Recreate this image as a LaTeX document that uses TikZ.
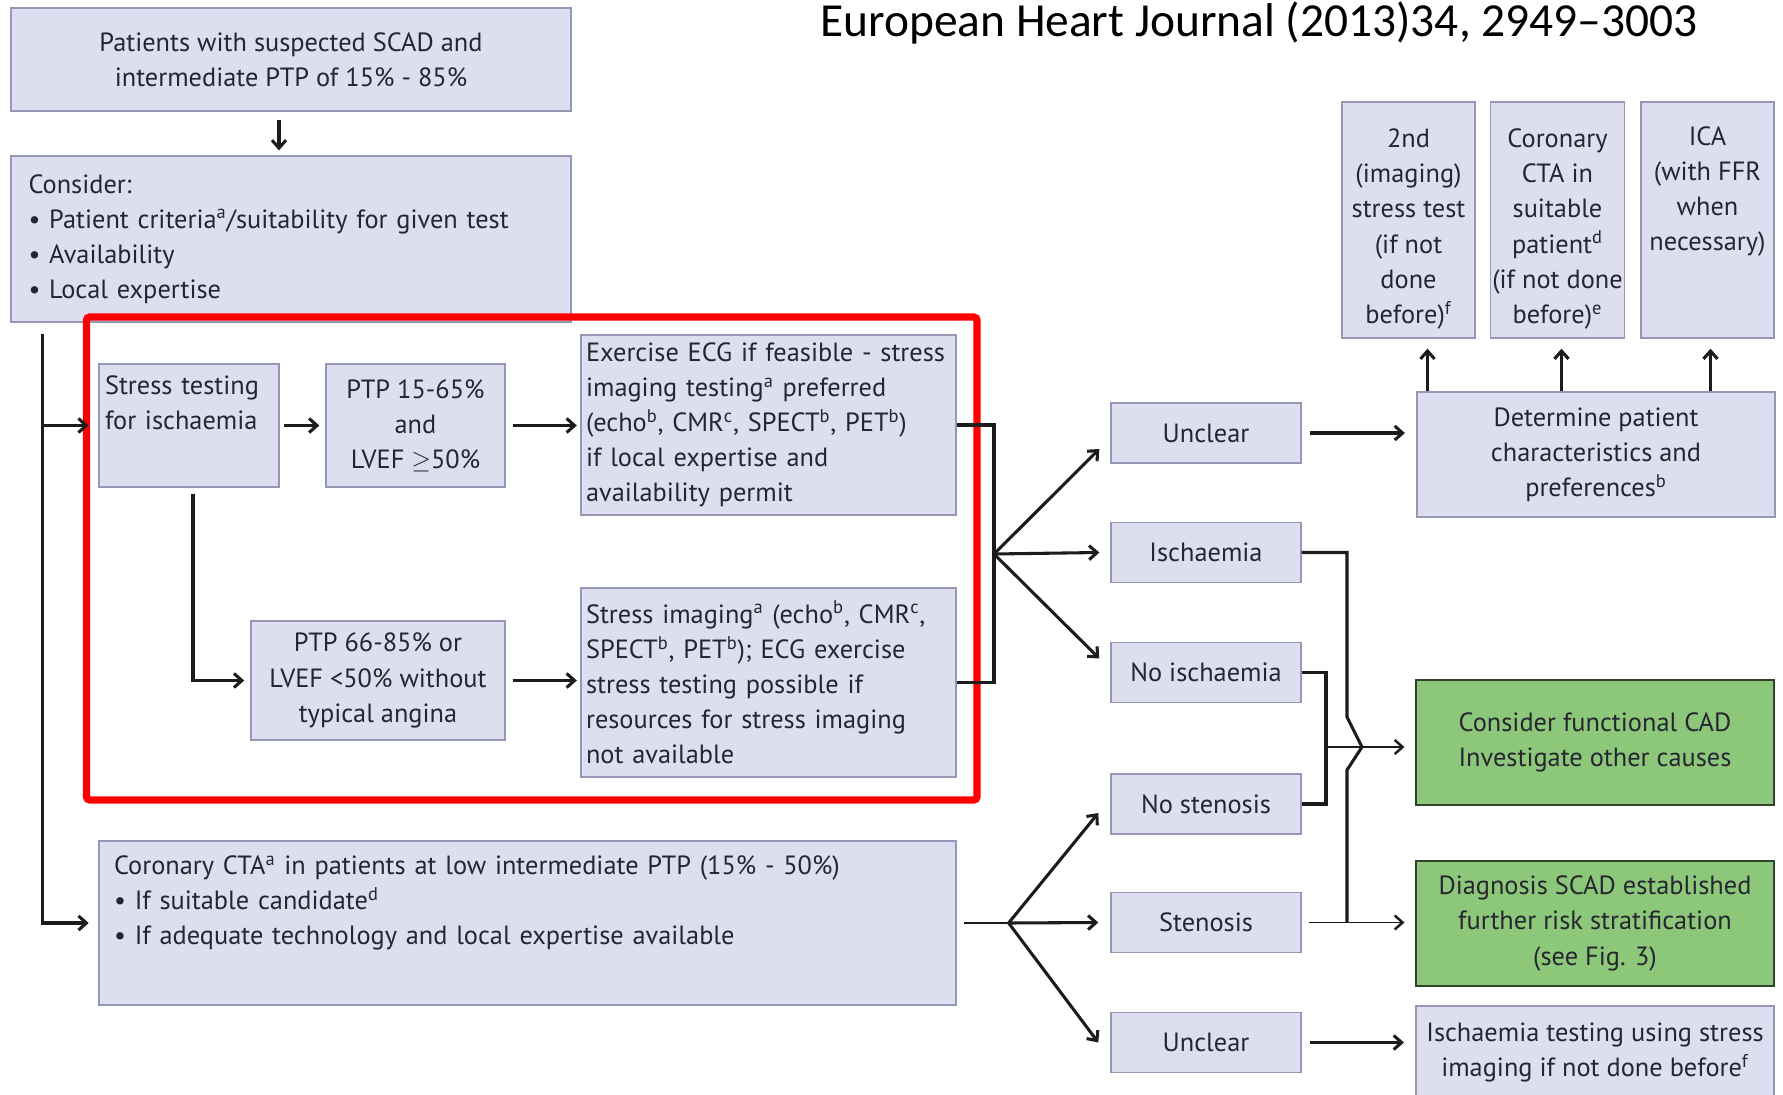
\documentclass[tikz,border=0pt]{standalone}
\usepackage{fontspec}
\setmainfont{PT Sans}
\newfontfamily\titlefont{Carlito}
\usepackage{tikz}
\usetikzlibrary{calc}
\usetikzlibrary{arrows.meta}

\definecolor{boxfill}{RGB}{221,222,240}
\definecolor{boxline}{RGB}{150,150,182}
\definecolor{greenfill}{RGB}{141,200,122}
\definecolor{greenline}{RGB}{48,68,44}
\definecolor{txt}{RGB}{38,38,48}
\definecolor{wire}{RGB}{28,28,28}

\newcommand{\lift}{\rule{0pt}{21pt}}

\begin{document}
\begin{tikzpicture}[x=0.02cm, y=-0.02cm,
	every node/.style={font=\fontsize{15}{20}\selectfont, text=txt},
	box/.style={draw=boxline, fill=boxfill, line width=0.8pt, inner sep=2pt},
	cbox/.style={box, align=center},
	sbox/.style={cbox, minimum width=3.8cm, minimum height=1.2cm},
	tbox/.style={cbox, minimum width=2.66cm, minimum height=4.72cm, inner sep=1pt},
	gbox/.style={cbox, draw=greenline, fill=greenfill, minimum width=7.16cm, minimum height=2.5cm},
	wire/.style={draw=wire, line width=1.75pt},
	thinwire/.style={draw=wire, line width=0.95pt},
	arr/.style={wire, -{Straight Barb[length=4.5pt, width=8pt]}},
	thinarr/.style={thinwire, -{Straight Barb[length=4.5pt, width=8pt, line width=1.4pt]}}]
	\path[use as bounding box, fill=white] (0,0) rectangle (1783,1095);

	\node[font=\titlefont\fontsize{27}{32}\selectfont, text=black] (title) at (1259,23) {European Heart Journal (2013)34, 2949–3003};

	\node[cbox, minimum width=11.2cm, minimum height=2.06cm] (ptp) at (291,59.5) {Patients with suspected SCAD and\\intermediate PTP of 15\% - 85\%};
	\node[box, align=left, text width=10.5cm, inner xsep=0.35cm, minimum height=3.32cm] (consider) at ($(ptp)+(0,179.5)$) {Consider:\\\textbullet\ Patient criteria\textsuperscript{a}/suitability for given test\\\textbullet\ Availability\\\textbullet\ Local expertise};

	\node[box, align=left, text width=3.36cm, inner xsep=0.12cm, minimum height=2.46cm] (stress) at (189,425.5) {Stress testing\\for ischaemia\\\strut};
	\node[cbox, minimum width=3.58cm, minimum height=2.46cm] (ptpA) at ($(stress)+(226.5,0)$) {PTP 15-65\%\\and\\LVEF $\geq$50\%};
	\node[box, align=left, text width=7.3cm, inner xsep=0.1cm, minimum height=3.6cm] (exer) at (768.5,425) {Exercise ECG if feasible - stress\\imaging testing\textsuperscript{a} preferred\\(echo\textsuperscript{b}, CMR\textsuperscript{c}, SPECT\textsuperscript{b}, PET\textsuperscript{b})\\if local expertise and\\availability permit};
	\node[cbox, minimum width=5.08cm, minimum height=2.38cm] (ptpB) at (378,680.5) {PTP 66-85\% or\\LVEF <50\% without\\typical angina};
	\node[box, align=left, text width=7.3cm, inner xsep=0.1cm, minimum height=3.78cm] (simg) at ($(exer)+(0,257.5)$) {Stress imaging\textsuperscript{a} (echo\textsuperscript{b}, CMR\textsuperscript{c},\\SPECT\textsuperscript{b}, PET\textsuperscript{b}); ECG exercise\\stress testing possible if\\resources for stress imaging\\not available};
	\node[box, align=left, text width=16.54cm, inner xsep=0.3cm, minimum height=3.28cm] (cta) at (527.5,923) {Coronary CTA\textsuperscript{a} in patients at low intermediate PTP (15\% - 50\%)\\\textbullet\ If suitable candidate\textsuperscript{d}\\\textbullet\ If adequate technology and local expertise available\\\strut};

	\draw[red, line width=4.2pt, rounded corners=2pt] (86.5,317) rectangle (977,800);

	\node[sbox] (unc1) at (1206,433) {Unclear};
	\node[sbox] (isch) at ($(unc1)+(0,119.5)$) {Ischaemia};
	\node[sbox] (noisch) at ($(isch)+(0,120)$) {No ischaemia};
	\node[sbox] (nosten) at ($(noisch)+(0,131.5)$) {No stenosis};
	\node[sbox] (sten) at ($(nosten)+(0,118.5)$) {Stenosis};
	\node[sbox] (unc2) at ($(sten)+(0,120)$) {Unclear};

	\node[cbox, minimum width=7.16cm, minimum height=2.5cm] (determ) at (1596,454.5) {Determine patient\\characteristics and\\preferences\textsuperscript{b}};
	\node[tbox] (b2nd) at (1408.5,220) {\lift 2nd\\(imaging)\\stress test\\(if not\\done\\before)\textsuperscript{f}};
	\node[tbox] (bcta) at ($(b2nd)+(149,0)$) {\lift Coronary\\CTA in\\suitable\\patient\textsuperscript{d}\\(if not done\\before)\textsuperscript{e}};
	\node[tbox] (bica) at ($(bcta)+(150,0)$) {\lift ICA\\(with FFR\\when\\necessary)\\\strut\\\strut};

	\node[gbox] (gcad) at (1595,742.5) {Consider functional CAD\\Investigate other causes};
	\node[gbox] (gscad) at ($(gcad)+(0,181)$) {Diagnosis SCAD established\\further risk stratification\\(see Fig. 3)};
	\node[cbox, minimum width=7.16cm, minimum height=1.86cm] (itest) at (1595,1052.5) {Ischaemia testing using stress\\imaging if not done before\textsuperscript{f}};

	% left side
	\coordinate (trunk) at ($(consider.south west)+(32,11)$);
	\draw[arr, shorten <=4.5pt, shorten >=2.8pt] ($(ptp.south)+(-12,0)$) -- ($(consider.north)+(-12,0)$);
	\draw[arr, shorten >=5.5pt] (trunk) |- (cta.west);
	\draw[arr, shorten >=5.5pt] (trunk |- stress.west) -- (stress.west);
	\draw[arr, shorten <=2.3pt, shorten >=3.4pt] (stress) -- (ptpA);
	\draw[arr, shorten <=4pt, shorten >=2pt] (ptpA.east) -- (ptpA.east -| exer.west);
	\draw[arr, shorten >=3.5pt] ($(stress.south)+(4,6)$) |- (ptpB.west);
	\draw[arr, shorten <=4pt, shorten >=2pt] (ptpB.east) -- (ptpB.east -| simg.west);

	\coordinate (fork1) at (994,554);
	\draw[wire] (exer.east) -| (fork1) |- (simg.east);
	\draw[arr] (fork1) -- ($(unc1.west)+(-11,16)$);
	\draw[arr] (fork1) -- ($(isch.west)+(-11,0)$);
	\draw[arr] (fork1) -- ($(noisch.west)+(-11,-14)$);

	\coordinate (fork2) at ($(cta.east)+(52,0)$);
	\draw[thinwire, shorten <=4pt] (cta.east) -- (fork2);
	\draw[arr] (fork2) -- ($(nosten.west)+(-12,9)$);
	\draw[arr] (fork2) -- ($(sten.west)+(-12,0)$);
	\draw[arr] (fork2) -- ($(unc2.west)+(-12,0)$);

	% right side
	\draw[arr, shorten <=5pt, shorten >=6.5pt] (unc1.east) -- (unc1.east -| determ.west);
	\foreach \b/\dx in {b2nd/19, bcta/4, bica/3} {
		\coordinate (up\b) at ($(\b.south)+(\dx,0)$);
		\draw[arr, shorten >=5.7pt] (up\b |- determ.north) -- (up\b);
	}

	\coordinate (hop) at (1347,747);
	\coordinate (brk) at (1326,747);
	\draw[wire] (isch.east) -| ($(hop)+(0,-30)$) -- ($(hop)+(15,0)$) -- ($(hop)+(0,23)$) -- (hop |- sten.east);
	\draw[wire] (noisch.east) -| (brk) |- (nosten.east);
	\draw[thinarr, shorten >=6.2pt] (brk) -- (brk -| gcad.west);
	\draw[thinarr, shorten <=4pt, shorten >=6.2pt] (sten.east) -- (sten.east -| gscad.west);
	\draw[arr, shorten <=5pt, shorten >=6.5pt] (unc2.east) -- (unc2.east -| itest.west);

\end{tikzpicture}
\end{document}
